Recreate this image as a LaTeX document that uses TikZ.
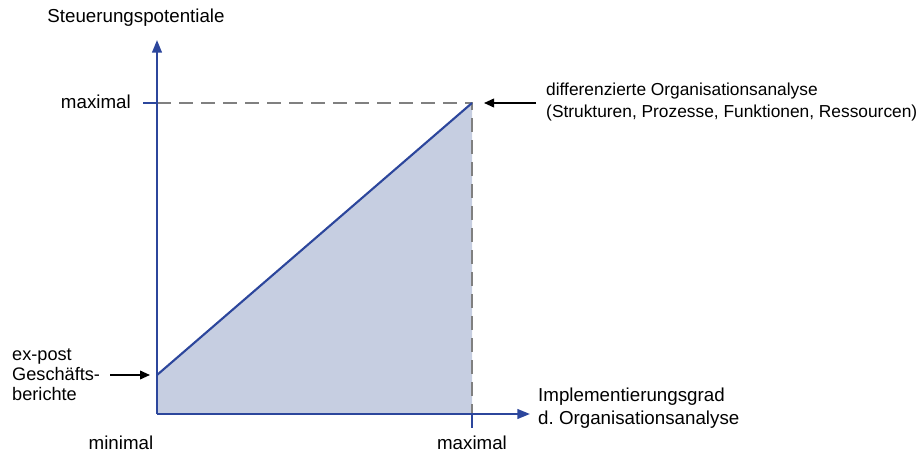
\documentclass[tikz,border=0pt]{standalone}
\usepackage{fontspec}
\setmainfont{Liberation Sans}
\usetikzlibrary{arrows.meta}

\definecolor{axisblue}{RGB}{44,70,156}
\definecolor{areablue}{RGB}{198,206,225}
\definecolor{dashgray}{RGB}{128,128,128}

\tikzset{
  axis/.style={axisblue, line width=1.8pt, -{Triangle[length=3.8mm, width=2.9mm]}},
  guide/.style={dashgray, line width=2pt, dash pattern=on 4.2mm off 2.4mm},
  pointer/.style={black, line width=1.4pt, -{Triangle[length=3mm, width=2.6mm]}},
  lbl/.style={font=\fontsize{16}{19}\selectfont, inner sep=0pt}
}

\begin{document}
\begin{tikzpicture}[x=0.03cm, y=-0.03cm]
\useasboundingbox (0,0) rectangle (919,454);
\def\xO{157}
\def\yO{414}
\def\xM{472}
\def\yM{103}

\coordinate (O) at (\xO,\yO);
\coordinate (P) at (\xO,375);
\coordinate (M) at (\xM,\yM);
\coordinate (Mx) at (\xM,\yO);
\coordinate (My) at (\xO,\yM);

% shaded area below the line
\fill[areablue] (O) -- (P) -- (M) -- (Mx) -- cycle;

% dashed guides to the maximum
\draw[guide] (My) -- (M) -- (Mx);

% axes and ticks
\draw[axis] (O) -- (\xO,40);
\draw[axis] (O) -- (530,\yO);
\draw[axisblue, line width=1.8pt] (My) -- ++(-14,0);
\draw[axisblue, line width=1.8pt] (Mx) -- ++(0,14);

% rising line
\draw[axisblue, line width=1.8pt] (P) -- (M);

\node[lbl] (ylab) at (136,18) {Steuerungspotentiale};
\node[lbl, anchor=east] (ymax) at (131,102) {maximal};
\node[lbl] (xmin) at (121,443) {minimal};
\node[lbl] (xmax) at (\xM,443) {maximal};
\node[lbl, anchor=west, align=left, font=\fontsize{16}{19.5}\selectfont] (xlab) at (538,408)
  {Implementierungsgrad\\d.~Organisationsanalyse};

\node[lbl, anchor=west, align=left, font=\fontsize{14.8}{18}\selectfont] (top) at (546,102)
  {differenzierte Organisationsanalyse\\(Strukturen, Prozesse, Funktionen, Ressourcen)};
\node[lbl, anchor=west, align=left, font=\fontsize{15.5}{17}\selectfont] (expost) at (12,375)
  {ex-post\\Geschäfts-\\berichte};

\coordinate (topTail) at (536,\yM);
\coordinate (exTail) at (110,375);
\draw[pointer] (topTail) -- (484,\yM);
\draw[pointer] (exTail) -- (150,375);
\end{tikzpicture}
\end{document}
